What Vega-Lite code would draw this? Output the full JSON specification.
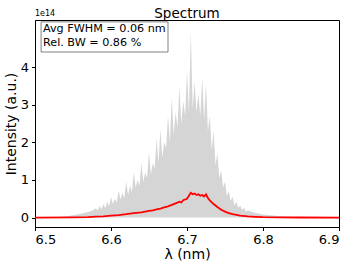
{
  "$schema": "https://vega.github.io/schema/vega-lite/v6.json",
  "width": 304,
  "height": 207,
  "autosize": {"type": "none"},
  "padding": {"left": 35, "top": 20, "right": 18, "bottom": 41},
  "config": {
    "font": "DejaVu Sans",
    "view": {"stroke": "#000000", "strokeWidth": 1},
    "axis": {"grid": false, "domainColor": "#000000", "tickColor": "#000000", "labelColor": "#000000", "titleColor": "#000000", "labelFont": "DejaVu Sans", "titleFont": "DejaVu Sans", "labelFontSize": 13, "titleFontSize": 14, "titleFontWeight": "normal", "tickSize": 3.5, "labelPadding": 3},
    "title": {"font": "DejaVu Sans", "fontSize": 13.5, "fontWeight": "normal", "color": "#000000", "offset": 5, "frame": "group"}
  },
  "title": {"text": "Spectrum", "anchor": "middle", "frame": "group", "dy": 15},
  "datasets": {
    "grey": [
      {"lam": 6.5, "v": 0}, {"lam": 6.51, "v": 0}, {"lam": 6.52, "v": 0.005}, {"lam": 6.53, "v": 0.01},
      {"lam": 6.54, "v": 0.03}, {"lam": 6.55, "v": 0.06}, {"lam": 6.56, "v": 0.1}, {"lam": 6.57, "v": 0.15}, {"lam": 6.575, "v": 0.18},
      {"lam": 6.58, "v": 0.25}, {"lam": 6.5825, "v": 0.19}, {"lam": 6.585, "v": 0.31}, {"lam": 6.5875, "v": 0.22},
      {"lam": 6.59, "v": 0.36}, {"lam": 6.5925, "v": 0.25}, {"lam": 6.595, "v": 0.42}, {"lam": 6.5975, "v": 0.3},
      {"lam": 6.6, "v": 0.55}, {"lam": 6.6025, "v": 0.36}, {"lam": 6.605, "v": 0.5}, {"lam": 6.6075, "v": 0.4},
      {"lam": 6.61, "v": 0.72}, {"lam": 6.6125, "v": 0.48}, {"lam": 6.615, "v": 0.66}, {"lam": 6.6175, "v": 0.52},
      {"lam": 6.62, "v": 0.95}, {"lam": 6.6225, "v": 0.6}, {"lam": 6.625, "v": 0.85}, {"lam": 6.6275, "v": 0.68},
      {"lam": 6.63, "v": 1.2}, {"lam": 6.6325, "v": 0.8}, {"lam": 6.635, "v": 1.0}, {"lam": 6.6375, "v": 0.85},
      {"lam": 6.64, "v": 1.45}, {"lam": 6.6425, "v": 0.95}, {"lam": 6.645, "v": 1.2}, {"lam": 6.6475, "v": 1.05},
      {"lam": 6.65, "v": 1.75}, {"lam": 6.6525, "v": 1.15}, {"lam": 6.655, "v": 1.45}, {"lam": 6.6575, "v": 1.3},
      {"lam": 6.66, "v": 2.1}, {"lam": 6.6625, "v": 1.45}, {"lam": 6.665, "v": 2.35}, {"lam": 6.6675, "v": 1.6},
      {"lam": 6.67, "v": 2.0}, {"lam": 6.6725, "v": 1.85}, {"lam": 6.675, "v": 2.7}, {"lam": 6.6775, "v": 2.0},
      {"lam": 6.68, "v": 3.2}, {"lam": 6.6825, "v": 2.2}, {"lam": 6.685, "v": 2.8}, {"lam": 6.6875, "v": 2.4},
      {"lam": 6.69, "v": 3.5}, {"lam": 6.6925, "v": 2.5}, {"lam": 6.695, "v": 3.1}, {"lam": 6.6975, "v": 2.7},
      {"lam": 6.7, "v": 3.9}, {"lam": 6.7025, "v": 2.8}, {"lam": 6.705, "v": 4.95}, {"lam": 6.7075, "v": 2.9},
      {"lam": 6.71, "v": 3.6}, {"lam": 6.7125, "v": 2.8}, {"lam": 6.715, "v": 3.3}, {"lam": 6.7175, "v": 2.7},
      {"lam": 6.72, "v": 3.7}, {"lam": 6.7225, "v": 2.6}, {"lam": 6.725, "v": 3.55}, {"lam": 6.7275, "v": 2.3},
      {"lam": 6.73, "v": 2.7}, {"lam": 6.7325, "v": 1.8}, {"lam": 6.735, "v": 2.3}, {"lam": 6.7375, "v": 1.4},
      {"lam": 6.74, "v": 1.7}, {"lam": 6.7425, "v": 1.05}, {"lam": 6.745, "v": 1.25}, {"lam": 6.7475, "v": 0.8},
      {"lam": 6.75, "v": 0.95}, {"lam": 6.7525, "v": 0.58}, {"lam": 6.755, "v": 0.7}, {"lam": 6.7575, "v": 0.45},
      {"lam": 6.76, "v": 0.55}, {"lam": 6.7625, "v": 0.33}, {"lam": 6.765, "v": 0.42}, {"lam": 6.7675, "v": 0.26},
      {"lam": 6.77, "v": 0.32}, {"lam": 6.7725, "v": 0.2}, {"lam": 6.775, "v": 0.26}, {"lam": 6.7775, "v": 0.16},
      {"lam": 6.78, "v": 0.19}, {"lam": 6.79, "v": 0.12}, {"lam": 6.8, "v": 0.08}, {"lam": 6.81, "v": 0.06},
      {"lam": 6.82, "v": 0.04}, {"lam": 6.83, "v": 0.03}, {"lam": 6.84, "v": 0.015}, {"lam": 6.85, "v": 0.01},
      {"lam": 6.86, "v": 0.005}, {"lam": 6.87, "v": 0}, {"lam": 6.9, "v": 0}
    ],
    "mean": [
      {"lam": 6.5, "v": 0}, {"lam": 6.55, "v": 0.005}, {"lam": 6.57, "v": 0.015}, {"lam": 6.58, "v": 0.025},
      {"lam": 6.59, "v": 0.035}, {"lam": 6.6, "v": 0.05}, {"lam": 6.61, "v": 0.065}, {"lam": 6.62, "v": 0.09},
      {"lam": 6.63, "v": 0.12}, {"lam": 6.64, "v": 0.14}, {"lam": 6.645, "v": 0.16}, {"lam": 6.65, "v": 0.18},
      {"lam": 6.655, "v": 0.19}, {"lam": 6.66, "v": 0.22}, {"lam": 6.665, "v": 0.24}, {"lam": 6.67, "v": 0.27},
      {"lam": 6.675, "v": 0.3}, {"lam": 6.68, "v": 0.34}, {"lam": 6.685, "v": 0.38}, {"lam": 6.69, "v": 0.42},
      {"lam": 6.6925, "v": 0.4}, {"lam": 6.695, "v": 0.46}, {"lam": 6.7, "v": 0.5}, {"lam": 6.7025, "v": 0.58},
      {"lam": 6.705, "v": 0.66}, {"lam": 6.7075, "v": 0.62}, {"lam": 6.71, "v": 0.64}, {"lam": 6.7125, "v": 0.6},
      {"lam": 6.715, "v": 0.62}, {"lam": 6.7175, "v": 0.58}, {"lam": 6.72, "v": 0.6}, {"lam": 6.7225, "v": 0.56},
      {"lam": 6.725, "v": 0.62}, {"lam": 6.7275, "v": 0.52}, {"lam": 6.73, "v": 0.46}, {"lam": 6.735, "v": 0.36},
      {"lam": 6.74, "v": 0.28}, {"lam": 6.745, "v": 0.21}, {"lam": 6.75, "v": 0.16}, {"lam": 6.755, "v": 0.12},
      {"lam": 6.76, "v": 0.09}, {"lam": 6.77, "v": 0.05}, {"lam": 6.78, "v": 0.03}, {"lam": 6.79, "v": 0.02},
      {"lam": 6.8, "v": 0.01}, {"lam": 6.82, "v": 0.005}, {"lam": 6.85, "v": 0.002}, {"lam": 6.9, "v": 0}
    ],
    "box": [{"x1": 6.508, "x2": 6.675, "y1": 4.4, "y2": 5.2}],
    "notes": [
      {"lam": 6.5105, "v": 5.0, "label": "Avg FWHM = 0.06 nm"},
      {"lam": 6.5105, "v": 4.64, "label": "Rel. BW = 0.86 %"}
    ],
    "exp": [{"lam": 6.5, "v": 5.25, "label": "1e14"}]
  },
  "layer": [
    {
      "data": {"name": "grey"},
      "mark": {"type": "area", "color": "#d3d3d3", "opacity": 0.95},
      "encoding": {
        "x": {"field": "lam", "type": "quantitative", "scale": {"domain": [6.5, 6.9], "nice": false, "zero": false},
              "axis": {"values": [6.5, 6.6, 6.7, 6.8, 6.9], "format": ".1f", "title": "λ (nm)", "titlePadding": 1}},
        "y": {"field": "v", "type": "quantitative", "scale": {"domain": [-0.25, 5.25], "nice": false},
              "axis": {"values": [0, 1, 2, 3, 4], "format": "d", "title": "Intensity (a.u.)", "titlePadding": 2}}
      }
    },
    {
      "data": {"name": "mean"},
      "mark": {"type": "line", "color": "#ff0000", "strokeWidth": 1.8},
      "encoding": {
        "x": {"field": "lam", "type": "quantitative"},
        "y": {"field": "v", "type": "quantitative"}
      }
    },
    {
      "data": {"name": "box"},
      "mark": {"type": "rect", "fill": "#ffffff", "stroke": "#808080", "strokeWidth": 1},
      "encoding": {
        "x": {"field": "x1", "type": "quantitative"},
        "x2": {"field": "x2"},
        "y": {"field": "y1", "type": "quantitative"},
        "y2": {"field": "y2"}
      }
    },
    {
      "data": {"name": "notes"},
      "mark": {"type": "text", "align": "left", "baseline": "middle", "fontSize": 11.2, "color": "#000000"},
      "encoding": {
        "x": {"field": "lam", "type": "quantitative"},
        "y": {"field": "v", "type": "quantitative"},
        "text": {"field": "label"}
      }
    },
    {
      "data": {"name": "exp"},
      "mark": {"type": "text", "align": "left", "baseline": "bottom", "fontSize": 8, "dy": -2, "color": "#000000", "clip": false},
      "encoding": {
        "x": {"field": "lam", "type": "quantitative"},
        "y": {"field": "v", "type": "quantitative"},
        "text": {"field": "label"}
      }
    }
  ]
}
